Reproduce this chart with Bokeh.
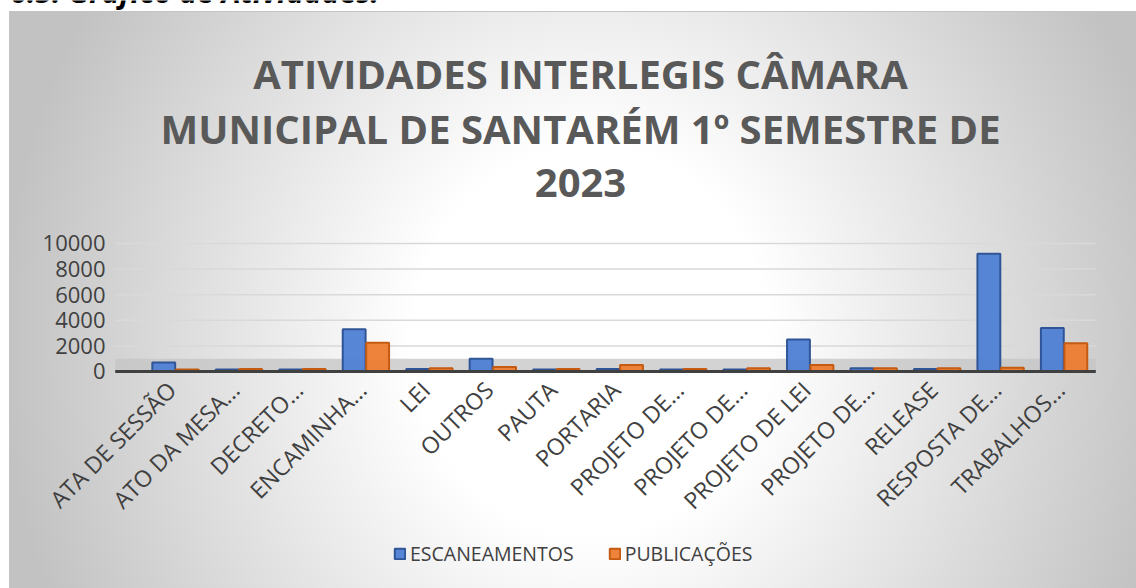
from math import pi
from bokeh.plotting import figure
from bokeh.models import Range1d, Label, Legend, LegendItem, ColumnDataSource
from bokeh.transform import dodge
from bokeh.core.properties import value
from bokeh.embed import file_html
from bokeh.resources import INLINE

# ---- data ----
categories = ["ATA DE SESSÃO", "ATO DA MESA...", "DECRETO...", "ENCAMINHA...", "LEI",
              "OUTROS", "PAUTA", "PORTARIA", "PROJETO DE...", "PROJETO DE...",
              "PROJETO DE LEI", "PROJETO DE...", "RELEASE", "RESPOSTA DE...", "TRABALHOS..."]
escaneamentos = [700, 150, 150, 3300, 200, 1000, 150, 200, 150, 150, 2500, 250, 200, 9200, 3400]
publicacoes = [150, 200, 200, 2250, 250, 350, 200, 500, 200, 250, 500, 250, 250, 300, 2200]
series_names = ["ESCANEAMENTOS", "PUBLICAÇÕES"]
y_ticks = [0, 2000, 4000, 6000, 8000, 10000]
y_tick_labels = [str(t) for t in y_ticks]
title_lines = ["ATIVIDADES INTERLEGIS CÂMARA",
               "MUNICIPAL DE SANTARÉM 1º SEMESTRE DE",
               "2023"]
heading = "6.5. Gráfico de Atividades:"

FONT = "Open Sans"
TXT = "#404040"
W, H = 1136, 588

n = len(categories)
positions = list(range(n))
src = ColumnDataSource(dict(x=positions, esc=escaneamentos, pub=publicacoes))

# whole canvas is the plotting frame; ranges chosen so categories/values land
# where the reference puts them
x0, x1 = -2.757, 15.141
y0, y1 = -16954, 28984
p = figure(width=W, height=H,
           x_range=Range1d(x0, x1), y_range=Range1d(y0, y1),
           output_backend="svg", toolbar_location=None,
           min_border=0, min_border_left=0, min_border_right=0,
           min_border_top=0, min_border_bottom=0)
p.axis.visible = False
p.grid.visible = False
p.styles = {"background":
            "linear-gradient(#ffffff,#ffffff) top left / 100% 11px no-repeat, "
            "linear-gradient(#ffffff,#ffffff) top left / 9px 100% no-repeat, "
            "linear-gradient(#c4c4c4,#c4c4c4) 9px 11px / 100% 1px no-repeat, "
            "linear-gradient(#c4c4c4,#c4c4c4) 9px 11px / 1px 100% no-repeat, "
            "radial-gradient(ellipse 52% 110% at 52% 58%, #ffffff 0%, #ffffff 30%, #c2c2c2 100%)"}
p.border_fill_color = None
p.background_fill_color = None
p.outline_line_color = None

gx0, gx1 = -0.95, n - 0.5

# gridlines at the y ticks
p.segment(x0=[gx0] * len(y_ticks), x1=[gx1] * len(y_ticks), y0=y_ticks, y1=y_ticks,
          line_color="#d9d9d9", line_width=1.5)

# floor strip
p.quad(left=[gx0], right=[gx1], bottom=[0], top=[1000],
       fill_color="#c4c4c4", fill_alpha=0.75, line_color=None)

bw = 0.36
r1 = p.vbar(x=dodge("x", -0.185, range=p.x_range), top="esc", width=bw, source=src,
            fill_color="#4f7fd4", fill_alpha=0.95, line_color="#2F5597", line_width=2)
r2 = p.vbar(x=dodge("x", 0.185, range=p.x_range), top="pub", width=bw, source=src,
            fill_color="#ED7D31", fill_alpha=0.95, line_color="#C55A11", line_width=2)

# baseline (category axis line)
p.segment(x0=[gx0], x1=[gx1], y0=[0], y1=[0], line_color="#404040", line_width=3)

# y tick labels
p.text(x=[x0] * len(y_ticks), y=y_ticks, text=y_tick_labels, x_offset=105,
       text_align="right", text_baseline="middle",
       text_font=value(FONT), text_font_size="22px", text_color=TXT)

# category labels (rotated 45 degrees)
p.text(x=positions, y=[0] * n, text=categories, angle=pi / 4, x_offset=-4, y_offset=14,
       text_align="right", text_baseline="middle",
       text_font=value(FONT), text_font_size="23px", text_color=TXT)

# page heading, mostly above the visible area (as in the reference)
p.add_layout(Label(x=10, y=597, x_units="screen", y_units="screen", text=heading,
                   text_align="left", text_baseline="alphabetic",
                   text_font=FONT, text_font_size="30px", text_font_style="bold italic",
                   text_color="#000000"))

# title (3 lines)
for line, ys in zip(title_lines, [515, 460, 406]):
    p.add_layout(Label(x=580, y=ys, x_units="screen", y_units="screen", text=line,
                       text_align="center", text_baseline="alphabetic",
                       text_font=FONT, text_font_size="40px", text_font_style="bold",
                       text_color="#595959"))

legend = Legend(items=[LegendItem(label=series_names[0], renderers=[r1]),
                       LegendItem(label=series_names[1], renderers=[r2])],
                orientation="horizontal", location=(393, 21),
                glyph_width=13, glyph_height=13, label_standoff=4, spacing=34,
                padding=0, margin=0, border_line_color=None, background_fill_alpha=0,
                label_text_font=FONT, label_text_font_size="19.5px", label_text_color=TXT)
p.add_layout(legend)

open("out.html", "w").write(file_html(p, INLINE))
